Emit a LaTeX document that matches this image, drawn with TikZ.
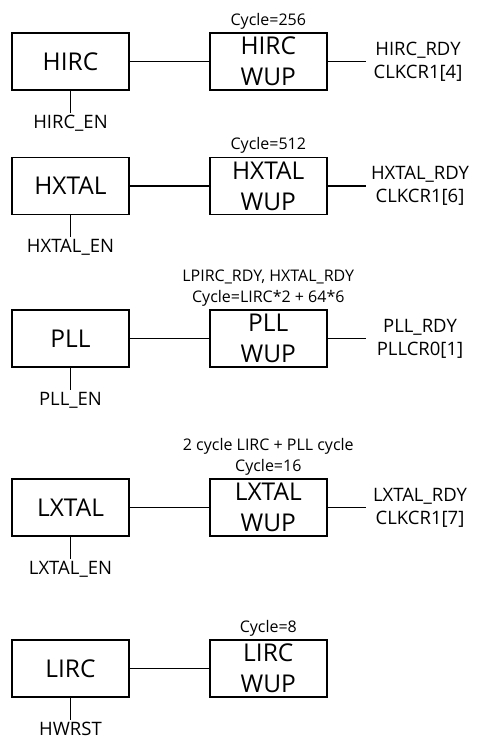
\documentclass[tikz,border=0pt]{standalone}
\usepackage{fontspec}
\setmainfont{Open Sans}
\usetikzlibrary{positioning}

\begin{document}
\begin{tikzpicture}[
  x=1pt, y=-1pt,
  node distance=77pt,
  blk/.style={rectangle, draw, line width=1.8pt, fill=white,
              minimum width=117pt, minimum height=57pt,
              align=center, inner sep=0pt,
              font=\fontsize{24.5}{31}\selectfont},
  sig/.style={align=center, inner sep=1pt,
              font=\fontsize{18.5}{23}\selectfont},
  cyc/.style={align=center, inner sep=2pt,
              font=\fontsize{16}{21}\selectfont},
  wire/.style={line width=1.8pt}
]
\useasboundingbox (0,0) rectangle (478,744);

% HIRC
\node[blk] (hirc) at (70.5,61.5) {HIRC};
\node[blk, right=79pt of hirc] (hircwup) {HIRC\\WUP};
\coordinate[right=38pt of hircwup] (hircout);
\coordinate[below=22pt of hirc] (hircen);
\node[sig] (hircrdy) at (418,61.5) {HIRC\_RDY\\CLKCR1[4]};
\node[sig, below=1pt of hircen] (hircenl) {HIRC\_EN};
\node[cyc, above=1pt of hircwup] (hirccyc) {Cycle=256};

% HXTAL
\node[blk] (hxtal) at (70.5,186) {HXTAL};
\node[blk, right=79pt of hxtal] (hxtalwup) {HXTAL\\WUP};
\coordinate[right=38pt of hxtalwup] (hxtalout);
\coordinate[below=22pt of hxtal] (hxtalen);
\node[sig] (hxtalrdy) at (420,186) {HXTAL\_RDY\\CLKCR1[6]};
\node[sig, below=1pt of hxtalen] (hxtalenl) {HXTAL\_EN};
\node[cyc, above=1pt of hxtalwup] (hxtalcyc) {Cycle=512};

% PLL
\node[blk] (pll) at (70.5,338.5) {PLL};
\node[blk, right=79pt of pll] (pllwup) {PLL\\WUP};
\coordinate[right=38pt of pllwup] (pllout);
\coordinate[below=22pt of pll] (pllen);
\node[sig] (pllrdy) at (420,338.5) {PLL\_RDY\\PLLCR0[1]};
\node[sig, below=1pt of pllen] (pllenl) {PLL\_EN};
\node[cyc, above=1pt of pllwup] (pllcyc) {LPIRC\_RDY, HXTAL\_RDY\\Cycle=LIRC*2 + 64*6};

% LXTAL
\node[blk] (lxtal) at (70.5,507.5) {LXTAL};
\node[blk, right=79pt of lxtal] (lxtalwup) {LXTAL\\WUP};
\coordinate[right=38pt of lxtalwup] (lxtalout);
\coordinate[below=22pt of lxtal] (lxtalen);
\node[sig] (lxtalrdy) at (420,507.5) {LXTAL\_RDY\\CLKCR1[7]};
\node[sig, below=1pt of lxtalen] (lxtalenl) {LXTAL\_EN};
\node[cyc, above=1pt of lxtalwup] (lxtalcyc) {2 cycle LIRC + PLL cycle\\Cycle=16};

% LIRC
\node[blk] (lirc) at (70.5,668.5) {LIRC};
\node[blk, right=79pt of lirc] (lircwup) {LIRC\\WUP};
\coordinate[below=22pt of lirc] (lircen);
\node[sig, below=1pt of lircen] (lircenl) {HWRST};
\node[cyc, above=1pt of lircwup] (lirccyc) {Cycle=8};

\draw[wire] (hirc) -- (hircwup);
\draw[wire] (hircwup) -- (hircout);
\draw[wire] (hirc) -- (hircen);
\draw[wire] (hxtal) -- (hxtalwup);
\draw[wire] (hxtalwup) -- (hxtalout);
\draw[wire] (hxtal) -- (hxtalen);
\draw[wire] (pll) -- (pllwup);
\draw[wire] (pllwup) -- (pllout);
\draw[wire] (pll) -- (pllen);
\draw[wire] (lxtal) -- (lxtalwup);
\draw[wire] (lxtalwup) -- (lxtalout);
\draw[wire] (lxtal) -- (lxtalen);
\draw[wire] (lirc) -- (lircwup);
\draw[wire] (lirc) -- (lircen);
\end{tikzpicture}
\end{document}
